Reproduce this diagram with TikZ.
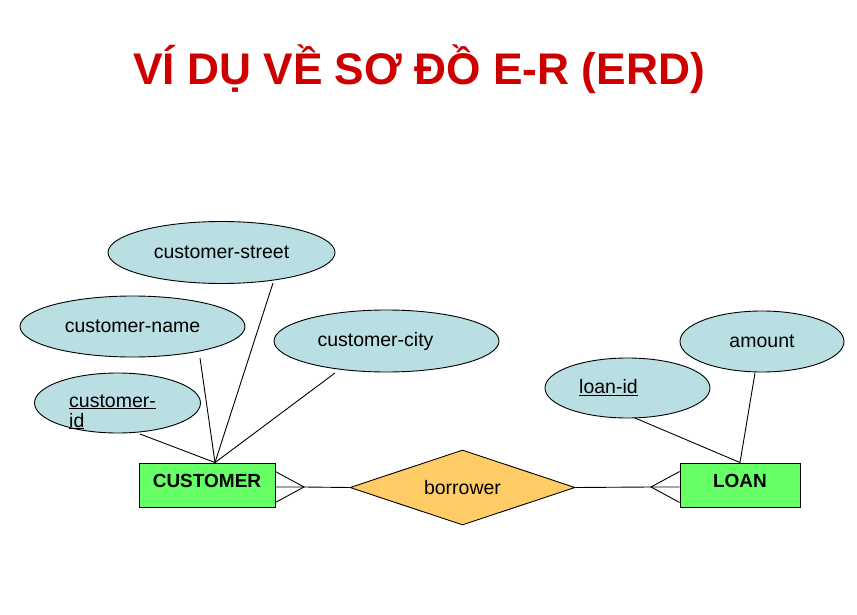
\documentclass[tikz,border=0pt]{standalone}
\usepackage{fontspec}
\setmainfont{Liberation Sans}
\usetikzlibrary{shapes.geometric}
\definecolor{titlered}{HTML}{CC0000}
\definecolor{attrfill}{HTML}{B9DFE3}
\definecolor{entfill}{HTML}{66FF66}
\definecolor{relfill}{HTML}{FFCC66}
\tikzset{
  attr/.style={ellipse, draw=black, fill=attrfill, line width=0.9pt, inner sep=0pt, font=\fontsize{19.5}{22}\selectfont},
  attrtext/.style={inner sep=0pt, font=\fontsize{19.5}{22}\selectfont},
  entity/.style={rectangle, draw=black, fill=entfill, line width=0.9pt, inner sep=0pt, text depth=9pt, font=\fontsize{19}{22}\selectfont\bfseries},
  relation/.style={diamond, aspect=3, draw=black, fill=relfill, line width=0.9pt, inner sep=0pt, font=\fontsize{19.5}{22}\selectfont},
  link/.style={draw=black, line width=0.9pt},
}
\begin{document}
\begin{tikzpicture}[x=1pt,y=-1pt]
\useasboundingbox (0,0) rectangle (857,615);
% title
\node[anchor=base, text=titlered, inner sep=0pt, font=\fontsize{44.3}{50}\selectfont\bfseries] (title) at (419,85) {VÍ DỤ VỀ SƠ ĐỒ E-R (ERD)};
% attributes
\node[attr, minimum width=227pt, minimum height=62pt] (street) at (221.5,252.5) {customer-street};
\node[attr, minimum width=225pt, minimum height=61pt] (name) at (132.5,326.5) {customer-name};
\node[attr, minimum width=225pt, minimum height=62pt,
      label={[attrtext, xshift=-11pt]center:customer-city}] (city) at (386.5,341) {};
\node[attr, minimum width=166pt, minimum height=60pt] (cid) at (117.5,403) {};
\node[attrtext, anchor=base west] (cidtext1) at (69,407) {\underline{customer-}};
\node[attrtext, anchor=base west] (cidtext2) at (69,427) {\underline{id}};
\node[attr, minimum width=164pt, minimum height=61pt] (amount) at (762,341.5) {amount};
\node[attr, minimum width=165pt, minimum height=60pt,
      label={[attrtext, xshift=-19pt]center:\underline{loan-id}}] (lid) at (627.5,388) {};
% entities and relationship
\node[entity, minimum width=136pt, minimum height=44pt] (cust) at (207,485) {CUSTOMER};
\node[entity, minimum width=120pt, minimum height=44pt] (loan) at (740,485) {LOAN};
\node[relation, minimum width=225pt, minimum height=75pt] (rel) at (462.5,487.5) {borrower};
% attribute links
\coordinate (cj) at ([xshift=8pt]cust.north);
\draw[link] (cj) -- ([shift={(51.5,30.5)}]street.center);
\draw[link] (cj) -- ([shift={(67.5,31.5)}]name.center);
\draw[link] (cj) -- ([shift={(-51.5,32)}]city.center);
\draw[link] (cj) -- ([shift={(22.5,31)}]cid.center);
\coordinate (lj) at (loan.north);
\draw[link] (lj) -- ([shift={(-7,31.5)}]amount.center);
\draw[link] (lj) -- ([shift={(7.5,30)}]lid.center);
% crow's feet and relationship lines
\coordinate (cf) at (304,487);
\coordinate (lf) at (651,487);
\draw[link] ([yshift=-9pt]cust.north east) -- (cf) -- ([yshift=5pt]cust.south east);
\draw[link] (cf -| cust.east) -- (cf) -- (rel.west);
\draw[link] ([yshift=-9pt]loan.north west) -- (lf) -- ([yshift=5pt]loan.south west);
\draw[link] (lf -| loan.west) -- (lf) -- (rel.east);
\end{tikzpicture}
\end{document}
